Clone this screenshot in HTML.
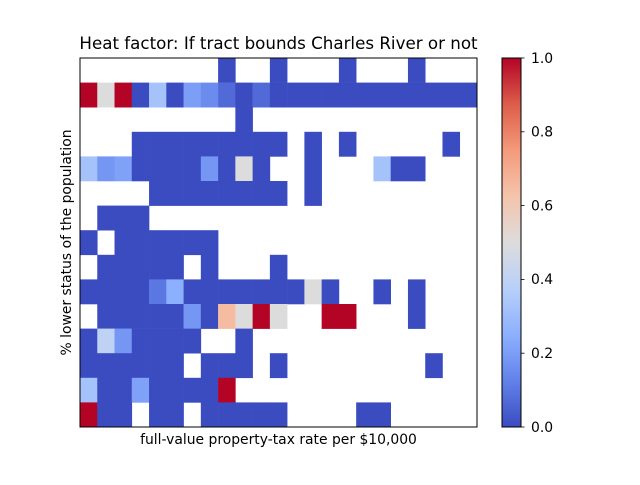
<!DOCTYPE html>
<html><head><meta charset="utf-8"><style>
body{margin:0;background:#fff;}
svg text{font-family:"DejaVu Sans","Liberation Sans",sans-serif;fill:#000;}
</style></head><body>
<svg id="chart" width="640" height="480" viewBox="0 0 640 480">
<defs>
<linearGradient id="cw" x1="0" y1="1" x2="0" y2="0">
<stop offset="0" stop-color="#3b4cc0"/>
<stop offset="0.125" stop-color="#6282ea"/>
<stop offset="0.25" stop-color="#8db0fe"/>
<stop offset="0.375" stop-color="#b8d0f9"/>
<stop offset="0.5" stop-color="#dddcdc"/>
<stop offset="0.625" stop-color="#f5c4ac"/>
<stop offset="0.75" stop-color="#f49a7b"/>
<stop offset="0.875" stop-color="#dc5d4a"/>
<stop offset="1" stop-color="#b40426"/>
</linearGradient>
</defs>
<text x="278.5" y="49" font-size="16.7" text-anchor="middle">Heat factor: If tract bounds Charles River or not</text>
<g id="cells"></g>
<rect x="80" y="58" width="397" height="369" fill="none" stroke="#000" stroke-width="1"/>
<text x="278.5" y="444" font-size="13.9" text-anchor="middle">full-value property-tax rate per $10,000</text>
<text transform="translate(71,242.5) rotate(-90)" font-size="13.9" text-anchor="middle">% lower status of the population</text>
<rect x="502" y="58" width="19" height="369" fill="url(#cw)" stroke="#000" stroke-width="1"/>
<g id="cbticks"></g>
</svg>
<script>
const nCols = 23;
const nRows = 15;
const N = null;
// rows top to bottom, values 0..1 (null = empty)
const row0 = [N,N,N,N,N,N,N,N,0,N,N,0,N,N,N,0,N,N,N,0,N,N,N];
const row1 = [1,0.5,1,0,0.32,0,0.2,0.15,0.07,0,0.07,0,0,0,0,0,0,0,0,0,0,0,0];
const row2 = [N,N,N,N,N,N,N,N,N,0,N,N,N,N,N,N,N,N,N,N,N,N,N];
const row3 = [N,N,N,0,0,0,0,0,0,0,0,0,N,0,N,0,N,N,N,N,N,0,N];
const row4 = [0.32,0.18,0.21,0,0,0,0,0.18,0,0.5,0,N,N,0,N,N,N,0.32,0,0,N,N,N];
const row5 = [N,N,N,N,0,0,0,0,0,0,0,0,N,0,N,N,N,N,N,N,N,N,N];
const row6 = [N,0,0,0,N,N,N,N,N,N,N,N,N,N,N,N,N,N,N,N,N,N,N];
const row7 = [0,N,0,0,0,0,0,0,N,N,N,N,N,N,N,N,N,N,N,N,N,N,N];
const row8 = [N,0,0,0,0,0,N,0,N,N,N,0,N,N,N,N,N,N,N,N,N,N,N];
const row9 = [0,0,0,0,0.1,0.25,0,0,0,0,0,0,0,0.5,0,N,N,0,N,0,N,N,N];
const row10 = [N,0,0,0,0,0,0.18,0,0.65,0.5,1,0.5,N,N,1,1,N,N,N,0,N,N,N];
const row11 = [0,0.4,0.18,0,0,0,0,N,N,0,N,N,N,N,N,N,N,N,N,N,N,N,N];
const row12 = [0,0,0,0,0,0,N,0,0,0,N,0,N,N,N,N,N,N,N,N,0,N,N];
const row13 = [0.32,0,0,0.21,0,0,0,0,1,N,N,N,N,N,N,N,N,N,N,N,N,N,N];
const row14 = [1,0,0,N,0,0,N,0,0,0,0,0,N,N,N,N,0,0,N,N,N,N,N];
const rows = [row0,row1,row2,row3,row4,row5,row6,row7,row8,row9,row10,row11,row12,row13,row14];
const cbTickValues = [0,0.2,0.4,0.6,0.8,1.0];
const cbTickLabels = ["0.0","0.2","0.4","0.6","0.8","1.0"];

const X0=80, X1=477, Y0=58, Y1=427;
function xScale(c){return X0+(X1-X0)*c/nCols;}
function yScale(r){return Y0+(Y1-Y0)*r/nRows;}
function cbScale(v){return Y1-(Y1-Y0)*v;}
const stops=[[0,[59,76,192]],[0.125,[98,130,234]],[0.25,[141,176,254]],[0.375,[184,208,249]],[0.5,[221,220,220]],[0.625,[245,196,172]],[0.75,[244,154,123]],[0.875,[220,93,74]],[1,[180,4,38]]];
function cmap(v){
  for(let i=0;i<stops.length-1;i++){
    const [a,ca]=stops[i],[b,cb]=stops[i+1];
    if(v<=b){const t=(v-a)/(b-a);return 'rgb('+ca.map((c,k)=>Math.round(c+(cb[k]-c)*t)).join(',')+')';}
  }
  return 'rgb(180,4,38)';
}
const NS='http://www.w3.org/2000/svg';
const g=document.getElementById('cells');
rows.forEach((row,r)=>{
  row.forEach((v,c)=>{
    if(v===null) return;
    const el=document.createElementNS(NS,'rect');
    el.setAttribute('x',xScale(c));
    el.setAttribute('y',yScale(r));
    el.setAttribute('width',xScale(c+1)-xScale(c)+0.3);
    el.setAttribute('height',yScale(r+1)-yScale(r)+0.3);
    el.setAttribute('fill',cmap(v));
    
    
    g.appendChild(el);
  });
});
const tg=document.getElementById('cbticks');
cbTickValues.forEach((v,i)=>{
  const y=cbScale(v);
  const ln=document.createElementNS(NS,'line');
  ln.setAttribute('x1',521);ln.setAttribute('x2',524.5);
  ln.setAttribute('y1',y);ln.setAttribute('y2',y);
  ln.setAttribute('stroke','#000');ln.setAttribute('stroke-width','0.8');
  
  
  tg.appendChild(ln);
  const t=document.createElementNS(NS,'text');
  t.setAttribute('x',531);t.setAttribute('y',y+4.8);
  t.setAttribute('font-size','13.9');
  t.textContent=cbTickLabels[i];
  
  
  tg.appendChild(t);
});
</script>
</body></html>
